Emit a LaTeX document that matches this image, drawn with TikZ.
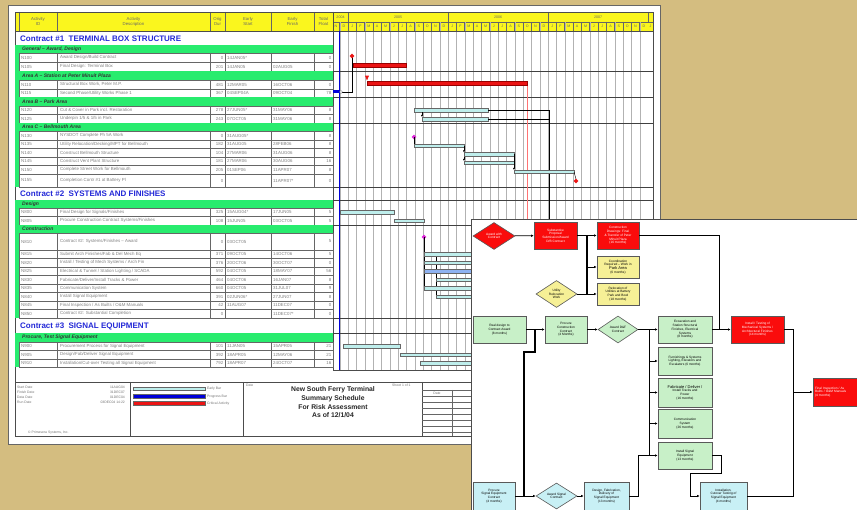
\documentclass[tikz,border=0pt]{standalone}
\usepackage{fontspec}
\setmainfont{Liberation Sans}
\usetikzlibrary{shapes.geometric,arrows.meta}
\definecolor{bgtan}{RGB}{212,189,128}
\definecolor{hdryellow}{RGB}{250,246,30}
\definecolor{grpgreen}{RGB}{40,236,110}
\definecolor{ctrblue}{RGB}{35,40,215}
\definecolor{earlybar}{RGB}{190,238,236}
\definecolor{critred}{RGB}{235,20,20}
\definecolor{flred}{RGB}{250,12,12}
\definecolor{flyellow}{RGB}{246,240,150}
\definecolor{flgreen}{RGB}{200,240,200}
\definecolor{flcyan}{RGB}{200,240,245}
\definecolor{mslink}{RGB}{225,40,220}

\newcommand{\cellf}{\fontsize{4.4}{5}\selectfont}
\newcommand{\hdrf}{\fontsize{4.3}{5}\selectfont}
\newcommand{\grpf}{\fontsize{5}{6}\selectfont\bfseries\itshape}
\newcommand{\ctrf}{\fontsize{8}{9}\selectfont\bfseries}
\newcommand{\flowf}{\fontsize{3.2}{3.7}\selectfont}

% one activity row of the schedule table: top, height, id, description, dur, start, finish, float
\newcommand{\trow}[8]{%
  \draw[rowline] (19,#1) rectangle (333,#1+#2);
  \foreach \cx in {57,210,225,271,314}{\draw[rowline] (\cx,#1) -- (\cx,#1+#2);}
  \node[cell] (#3i) at (21,#1+#2/2) {#3};
  \node[cell] (#3d) at (60,#1+#2/2) {#4};
  \node[cell,anchor=east] (#3o) at (223.5,#1+#2/2) {#5};
  \node[cell] (#3s) at (227,#1+#2/2) {#6};
  \node[cell] (#3f) at (273,#1+#2/2) {#7};
  \node[cell,anchor=east] (#3t) at (331.5,#1+#2/2) {#8};
}
% a green group band: top, height, title
\newcommand{\tgroup}[3]{%
  \fill[grpgreen] (19,#1) rectangle (333,#1+#2);
  \node[grp] at (22,#1+#2/2) {#3};
}

\begin{document}
\begin{tikzpicture}[x=1pt,y=-1pt,
  cell/.style={font=\cellf, text=black!50, inner sep=0, anchor=west},
  hdr/.style={font=\hdrf, text=black!60, inner sep=0, align=center},
  grp/.style={font=\grpf, text=black!80, inner sep=0, anchor=west},
  ctr/.style={font=\ctrf, text=ctrblue, inner sep=0, anchor=west},
  mon/.style={font=\fontsize{3.6}{4}\selectfont, text=black!60, inner sep=0},
  rowline/.style={draw=black!60, line width=0.35pt},
  monthline/.style={draw=black!30, line width=0.3pt},
  grpline/.style={draw=black!75, line width=0.5pt},
  ebar/.style={draw=black!60, fill=earlybar, line width=0.3pt},
  cbar/.style={draw=red!60!black, fill=critred, line width=0.3pt},
  link/.style={draw=black, line width=0.45pt},
  foot/.style={font=\fontsize{3.4}{4}\selectfont, text=black!55, inner sep=0},
  fbox/.style={rectangle, draw=black!65, line width=0.6pt, inner sep=0.5pt, align=center, font=\flowf},
  fdia/.style={diamond, draw=black!65, line width=0.6pt, inner sep=0pt, align=center, font=\flowf},
  wire/.style={draw=black, line width=0.8pt},
  bus/.style={draw=black, line width=1.3pt},
  arr/.style={draw=black, line width=0.8pt, -{Latex[length=2.6pt,width=2.6pt]}},
]
\path[use as bounding box, fill=bgtan] (0,0) rectangle (857,510);
\clip (0,0) rectangle (857,510);

% ---------------- schedule sheet ----------------
\draw[fill=white, draw=black!60, line width=0.6pt] (8,5) rectangle (660,444);

% header band
\fill[hdryellow] (15,12) rectangle (653,31);
\foreach \cx in {19,57,210,225,271,314,333}{\draw[rowline] (\cx,12) -- (\cx,31);}
\node[hdr] (hid) at (38,21.5) {Activity\\ID};
\node[hdr] (hdesc) at (133.5,21.5) {Activity\\Description};
\node[hdr] (hdur) at (217.5,21.5) {Orig\\Dur};
\node[hdr] (hes) at (248,21.5) {Early\\Start};
\node[hdr] (hef) at (292.5,21.5) {Early\\Finish};
\node[hdr] (htf) at (323.5,21.5) {Total\\Float};

% time scale
\draw[rowline] (333,22) -- (653,22);
\foreach \cx in {348,447.99,547.99,647.99}{\draw[rowline] (\cx,12) -- (\cx,22);}
\node[mon] (y04) at (340.5,17) {2004};
\node[mon] (y05) at (398,17) {2005};
\node[mon] (y06) at (498,17) {2006};
\node[mon] (y07) at (598,17) {2007};
\foreach \k in {-1,...,35}{\draw[monthline] ({348+\k*8.333},22) -- ({348+\k*8.333},370);}
\foreach \k in {-1,...,35}{\draw[rowline] ({348+\k*8.333},22) -- ({348+\k*8.333},31);}
\node[mon] at (336,26.5) {N};
\node[mon] at (343.8,26.5) {D};
\foreach \yr in {0,1,2}{
  \foreach \m [count=\i from 0] in {J,F,M,A,M,J,J,A,S,O,N,D}{
    \node[mon] at ({348+(12*\yr+\i)*8.333+4.17},26.5) {\m};
  }
}
\node[mon] at (650.5,26.5) {J};

% outer frame and separators
\draw[black!70, line width=0.5pt] (15,12) rectangle (653,436);
\draw[black!70, line width=0.5pt] (15,31) -- (653,31);
\draw[black!70, line width=0.5pt] (333,12) -- (333,370);
\draw[black!70, line width=0.5pt] (333,370) -- (653,370);

% ---- Contract 1
\node[ctr] (c1) at (20,38.5) {Contract \#1\ \ TERMINAL BOX STRUCTURE};
\fill[grpgreen] (15,45) rectangle (19,187);
\tgroup{45}{8}{General -- Award, Design}
\trow{53}{9}{N100}{Award Design/Build Contract}{0}{14JAN05*}{}{0}
\trow{62}{9}{N105}{Final Design: Terminal Box}{201}{14JAN05}{02AUG05}{0}
\tgroup{71}{9}{Area A -- Station at Peter Minuit Plaza}
\trow{80}{9}{N110}{Structural Box Work, Peter M.P.}{481}{12MAR05}{16OCT06}{0}
\trow{89}{8}{N115}{Second Phase/Utility Works Phase 1}{367}{04SEP04A}{09OCT04}{78}
\tgroup{97}{9}{Area B -- Park Area}
\trow{106}{8.5}{N120}{Cut \& Cover in Park incl. Restoration}{278}{27JUN05*}{31MAY06}{8}
\trow{114.5}{8.5}{N125}{Underpin 1/5 \& 1/5 in Park}{243}{07OCT05}{31MAY06}{8}
\tgroup{123}{8}{Area C -- Bellmouth Area}
\trow{131}{9}{N130}{NYSDOT Complete Ph 5A Work}{0}{31AUG05*}{}{8}
\trow{140}{8.5}{N135}{Utility Relocation/Decking/MPT for Bellmouth}{182}{31AUG05}{28FEB06}{8}
\trow{148.5}{8.5}{N140}{Construct Bellmouth Structure}{104}{27MAR06}{31AUG06}{8}
\trow{157}{8.5}{N145}{Construct Vent Plant Structure}{181}{27MAR06}{30AUG06}{16}
\trow{165.5}{8.5}{N150}{Complete Street Work for Bellmouth}{205}{01SEP06}{11APR07}{8}
\trow{174}{13}{N155}{Completion Contr \#1 at Battery Pl}{0}{}{11APR07*}{0}

% ---- Contract 2
\node[ctr] (c2) at (20,194) {Contract \#2\ \ SYSTEMS AND FINISHES};
\fill[grpgreen] (15,200) rectangle (19,318);
\tgroup{200}{8}{Design}
\trow{208}{8.5}{N800}{Final Design for Signals/Finishes}{325}{15AUG04*}{17JUN05}{5}
\trow{216.5}{8.5}{N805}{Procure Construction Contract Systems/Finishes}{108}{15JUN05}{03OCT05}{5}
\tgroup{225}{8}{Construction}
\trow{233}{17}{N810}{Contract \#2: Systems/Finishes -- Award}{0}{03OCT05}{}{5}
\trow{250}{8.5}{N815}{Submit Arch Finishes/Fab \& Del Mech Eq}{371}{09OCT05}{14OCT06}{5}
\trow{258.5}{8.5}{N820}{Install / Testing of Mech Systems / Arch Fin}{376}{20OCT06}{30OCT07}{0}
\trow{267}{8.5}{N825}{Electrical \& Tunnel / Station Lighting / SCADA}{592}{04OCT05}{18MAY07}{56}
\trow{275.5}{8.5}{N830}{Fabricate/Deliver/Install Tracks \& Power}{464}{04OCT06}{16JAN07}{8}
\trow{284}{8.5}{N835}{Communication System}{660}{04OCT05}{31JUL07}{9}
\trow{292.5}{8.5}{N840}{Install Signal Equipment}{391}{02JUN06*}{27JUN07}{8}
\trow{301}{8.5}{N845}{Final Inspection / As Builts / O\&M Manuals}{42}{11AUG07}{11DEC07}{0}
\trow{309.5}{8.5}{N850}{Contract \#2: Substantial Completion}{0}{}{11DEC07*}{0}

% ---- Contract 3
\node[ctr] (c3) at (20,326) {Contract \#3\ \ SIGNAL EQUIPMENT};
\fill[grpgreen] (15,333) rectangle (19,367);
\tgroup{333}{9}{Procure, Test Signal Equipment}
\trow{342}{8.5}{N900}{Procurement Process for Signal Equipment}{101}{11JAN05}{15APR05}{21}
\trow{350.5}{8.5}{N905}{Design/Fab/Deliver Signal Equipment}{392}{18APR05}{12MAY06}{21}
\trow{359}{8.5}{N910}{Installation/Cut-over Testing all Signal Equipment}{792}{18APR07}{24OCT07}{16}

% group separators across the bar chart
\foreach \gy in {71,97,123,187,200,225,318,333}{\draw[grpline] (333,\gy) -- (653,\gy);}

% data date
\draw[blue!85!black, line width=1.2pt] (339.7,31) -- (339.7,370);

% ---- bars, contract 1
\draw[red!55, line width=0.5pt] (527,86) -- (527,370);
\draw[link] (352,57) -- (352,92) -- (342,92);
\fill[blue!85!black] (333,90.5) rectangle (339,93.5);
\draw[black!70, fill=white, line width=0.3pt] (341,92) circle (1.5pt);
\node[diamond, fill=critred, inner sep=0, minimum size=5pt] (ms100) at (352,56) {};
\draw[cbar] (353,63.5) rectangle (406,67.5);
\node[isosceles triangle, shape border rotate=-90, fill=critred, inner sep=0, minimum size=4pt] (ms110) at (367,77) {};
\draw[cbar] (367,81.5) rectangle (527,85.5);
\draw[ebar] (414,108.5) rectangle (488,112);
\draw[ebar] (422,117.5) rectangle (488,121);
\draw[link, -{Latex[length=2pt,width=2pt]}] (422,112) -- (422,117);
\draw[link] (488,110) -- (549,110) -- (549,370);
\draw[link] (488,119) -- (549,119);
\node[diamond, fill=mslink, inner sep=0, minimum size=5pt] (ms130) at (414,137) {};
\draw[link] (414,137) -- (414,144);
\draw[ebar] (414,144) rectangle (464,147.5);
\draw[link, -{Latex[length=2pt,width=2pt]}] (464,146) -- (464,152.5);
\draw[link, -{Latex[length=2pt,width=2pt]}] (464,152.5) -- (464,161);
\draw[ebar] (464,152.5) rectangle (514,156);
\draw[ebar] (464,161) rectangle (514,164.5);
\draw[link, -{Latex[length=2pt,width=2pt]}] (514,154) -- (514,170);
\draw[ebar] (514,170) rectangle (574,173.5);
\draw[link] (574,172) -- (576,179);
\node[diamond, fill=critred, inner sep=0, minimum size=5pt] (ms155) at (576,181) {};

% ---- bars, contract 2 and 3
\draw[ebar] (340,210.5) rectangle (394,214);
\draw[ebar] (394,219) rectangle (424,222.5);
\node[diamond, fill=mslink, inner sep=0, minimum size=5pt] (ms810) at (424,237) {};
\draw[link] (424,237) -- (424,290);
\draw[link] (436,256) -- (436,298);
\draw[ebar] (424,252.5) rectangle (527,256);
\draw[ebar] (424,261) rectangle (631,264.5);
\draw[draw=black!60, fill=blue!25!earlybar, line width=0.3pt] (424,269.5) rectangle (586,273);
\draw[ebar] (436,278) rectangle (552,281.5);
\draw[ebar] (424,286.5) rectangle (606,290);
\draw[ebar] (436,295) rectangle (597,298.5);
\draw[ebar] (343,344.5) rectangle (400,348);
\draw[ebar] (400,353) rectangle (490,356.5);
\draw[ebar] (420,361.5) rectangle (600,365);

% ---- footer
\draw[black!70, line width=0.5pt] (15,382) -- (653,382);
\foreach \fx in {130,243,422}{\draw[black!70, line width=0.5pt] (\fx,382) -- (\fx,436);}
\draw[rowline] (452,390) -- (452,436);
\foreach \fy in {390,396,402,408,414,420,426,432}{\draw[rowline] (422,\fy) -- (653,\fy);}
\node[foot, anchor=west] (lsd) at (17,387) {Start Date};
\node[foot, anchor=west] (lfd) at (17,392) {Finish Date};
\node[foot, anchor=west] (ldd) at (17,397) {Data Date};
\node[foot, anchor=west] (lrd) at (17,402) {Run Date};
\node[foot, anchor=east] (vsd) at (125,387) {11AUG04};
\node[foot, anchor=east] (vfd) at (125,392) {31DEC07};
\node[foot, anchor=east] (vdd) at (125,397) {01DEC04};
\node[foot, anchor=east] (vrd) at (125,402) {03DEC04 14:22};
\node[foot, anchor=west] (copy) at (28,433) {\textcopyright\ Primavera Systems, Inc.};
\draw[ebar] (133,387.5) rectangle (205,390.5);
\draw[draw=black!60, fill=blue!85!black, line width=0.3pt] (133,394.5) rectangle (205,398.5);
\draw[draw=black!60, fill=critred, line width=0.3pt] (133,401.5) rectangle (205,405.5);
\node[foot, anchor=west] (leb) at (207,389) {Early Bar};
\node[foot, anchor=west] (lpb) at (207,396.5) {Progress Bar};
\node[foot, anchor=west] (lca) at (207,403.5) {Critical Activity};
\node[foot, anchor=west] (ldate) at (246,385.5) {Date};
\node[foot, anchor=west] (lsheet) at (392,385.5) {Sheet 1 of 1};
\node[foot, anchor=center] (lrev) at (437,393) {Date};
\node[align=center, inner sep=0, font=\fontsize{6.8}{8.6}\selectfont\bfseries, text=black!85] (title) at (333,402.5)
  {New South Ferry Terminal\\Summary Schedule\\For Risk Assessment\\As of 12/1/04};

% ---------------- flow chart sheet ----------------
\draw[fill=white, draw=black!70, line width=0.6pt] (471,219) rectangle (880,530);

\node[fdia, fill=flred, text=white, minimum width=42pt, minimum height=27pt] (award) at (494,236) {Award with\\Contract};
\node[fbox, fill=flred, text=white, minimum width=43pt, minimum height=27pt] (subm) at (555.5,235.5) {Substantive\\Proposal\\Submission/Award\\D/B Contract};
\node[fbox, fill=flred, text=white, minimum width=42pt, minimum height=27pt] (cdraw) at (618,235.5) {Construction\\Drawings: Final\\\& Transfer of Peter\\Minuit Plaza\\(16 months)};
\node[fbox, fill=flyellow, minimum width=42pt, minimum height=22pt] (park) at (618,267) {Coordination\\Required -- Work in\\{\fontsize{4}{4.4}\selectfont Park Area}\\(6 months)};
\node[fdia, fill=flyellow, minimum width=41pt, minimum height=27pt] (utildia) at (556.5,294) {Utility\\Relocation\\Work};
\node[fbox, fill=flyellow, minimum width=42pt, minimum height=22pt] (battery) at (618,294) {Relocation of\\Utilities at Battery\\Park and Bowl\\(18 months)};

\node[fbox, fill=flgreen, minimum width=53pt, minimum height=27pt] (realdes) at (499.5,329.5) {Real design to\\Contract Award\\(8 months)};
\node[fbox, fill=flgreen, minimum width=42pt, minimum height=27pt] (procure) at (566,329.5) {Procure\\Construction\\Contract\\(4 Months)};
\node[fdia, fill=flgreen, minimum width=40pt, minimum height=27pt] (awarddf) at (618,329.5) {Award D\&F\\Contract};
\node[fbox, fill=flgreen, minimum width=54pt, minimum height=27pt] (excav) at (685,329.5) {Excavation and\\Station Structural\\Finishes, Electrical\\Systems\\(8 months)};
\node[fbox, fill=flgreen, minimum width=54pt, minimum height=28pt] (furnish) at (685,361) {Furnishings \& Systems\\Lighting, Elevators and\\Escalators (6 months)};
\node[fbox, fill=flgreen, minimum width=54pt, minimum height=29pt] (tracks) at (685,392.5) {{\fontsize{4}{4.4}\selectfont Fabricate / Deliver /}\\Install Tracks and\\Power\\(16 months)};
\node[fbox, fill=flgreen, minimum width=54pt, minimum height=29pt] (comms) at (685,423.5) {Communication\\System\\(26 months)};
\node[fbox, fill=flgreen, minimum width=54pt, minimum height=27pt] (instsig) at (685,455.5) {Install Signal\\Equipment\\(13 months)};
\node[fbox, fill=flred, text=white, minimum width=53pt, minimum height=27pt] (mech) at (757.5,329.5) {Install / Testing of\\Mechanical Systems /\\Architectural Finishes\\(14 months)};
\node[fbox, fill=flred, text=white, minimum width=64pt, minimum height=28pt, text width=60pt, align=left] (final) at (845,392) {Final Inspection / As\\Builts / O\&M Manuals\\(4 months)};

\node[fbox, fill=flcyan, minimum width=42pt, minimum height=28pt] (sigproc) at (494,496) {Procure\\Signal Equipment\\Contract\\(4 months)};
\node[fdia, fill=flcyan, minimum width=41pt, minimum height=26pt] (sigaward) at (556.5,496) {Award Signal\\Contract};
\node[fbox, fill=flcyan, minimum width=45pt, minimum height=28pt] (sigfab) at (606.5,496) {Design, Fabrication,\\Delivery of\\Signal Equipment\\(13 months)};
\node[fbox, fill=flcyan, minimum width=47pt, minimum height=28pt] (sigtest) at (723.5,496) {Installation,\\Cutover Testing of\\Signal Equipment\\(4 months)};

% junction points of the connector buses
\coordinate (busA) at (587,235.5);
\coordinate (busB) at (587,294);
\coordinate (busC) at (719,235.5);
\coordinate (busD) at (649,329.5);
\coordinate (busE) at (649,455.5);
\coordinate (busF) at (793,329.5);
\coordinate (busG) at (793,392);
\coordinate (busH) at (535,329.5);
\coordinate (busI) at (524,496);
\coordinate (busJ) at (638,496);

\draw[arr] (award) -- (subm);
\draw[arr] (subm) -- (cdraw);
\draw[bus] (busA) -- (busB);
\draw[arr] (busA |- park.west) -- (park.west);
\draw[arr] (utildia) -- (battery);
\draw[wire] (cdraw.east) -- (busC) -- (busC |- mech.west);
\draw[arr] (excav) -- (mech);
\draw[arr] (realdes) -- (procure);
\draw[bus] (busH) -- (535,352) -- (524,352) -- (busI);
\draw[arr] (sigproc) -- (sigaward);
\draw[arr] (procure) -- (awarddf);
\draw[arr] (awarddf) -- (excav);
\draw[wire] (busD) -- (busE);
\draw[arr] (busD |- furnish.west) -- (furnish.west);
\draw[arr] (busD |- tracks.west) -- (tracks.west);
\draw[arr] (busD |- comms.west) -- (comms.west);
\draw[arr] (sigaward) -- (sigfab);
\draw[wire] (sigfab.east) -- (busJ) -- (busJ |- instsig.west);
\draw[arr] (busJ |- instsig.west) -- (instsig.west);
\draw[arr] (instsig.east) -- (721,455.5) -- (721,473) -- (690,473) -- (690,496) -- (sigtest.west);
\draw[wire] (sigtest.east) -- (793,496) -- (busF) -- (mech.east);
\draw[arr] (busG) -- (final.west);
\end{tikzpicture}
\end{document}
